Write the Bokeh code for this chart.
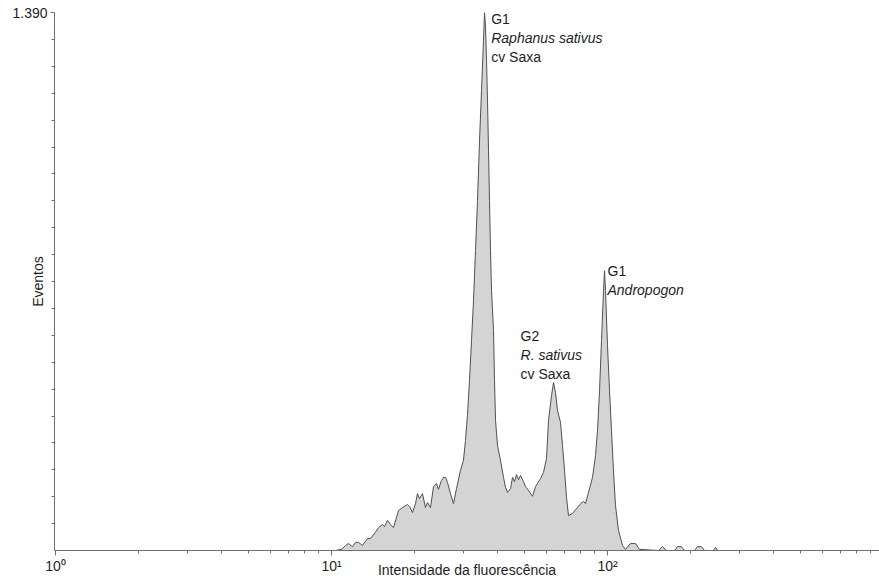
from bokeh.plotting import figure
from bokeh.models import Range1d, FixedTicker, ColumnDataSource
from bokeh.embed import file_html
from bokeh.resources import INLINE
from bokeh.core.properties import value

# ---- data ----
fluorescence = [
    10.34, 10.87, 11.24, 11.52, 11.91, 12.22, 12.53, 12.95, 13.50, 13.85,
    14.43, 14.80, 15.30, 15.56, 15.95, 16.36, 16.77, 17.49, 18.08, 18.85,
    19.17, 19.65, 20.15, 20.49, 20.84, 21.36, 21.90, 22.27, 22.84, 23.42,
    24.01, 24.41, 25.03, 25.45, 25.88, 26.32, 26.98, 27.67, 28.37, 29.33,
    30.07, 30.58, 31.09, 31.62, 32.16, 32.70, 33.25, 33.81, 34.38, 34.96,
    35.54, 35.84, 36.14, 36.45, 36.75, 37.06, 37.37, 37.68, 38.00, 38.64,
    38.96, 39.29, 39.95, 40.96, 42.00, 42.71, 43.43, 44.53, 45.28, 46.04,
    46.82, 47.61, 48.41, 49.63, 50.47, 51.75, 53.50, 54.86, 57.19, 58.64,
    60.12, 61.13, 62.68, 63.74, 64.81, 65.90, 67.57, 68.71, 69.86, 71.04,
    72.24, 74.69, 77.87, 79.84, 81.87, 83.25, 85.36, 88.25, 90.49, 92.01,
    93.56, 95.14, 96.74, 97.55, 98.35, 100.0, 101.7, 103.4, 105.1, 106.9,
    109.6, 113.3, 116.2, 121.2, 126.3, 130.6, 153.0, 158.2, 163.6, 174.9,
    179.3, 185.4, 190.1, 206.7, 211.9, 219.1, 224.6, 242.2, 246.3, 250.4,
]
events = [
    0, 3, 13, 18, 10, 21, 21, 13, 31, 31,
    47, 59, 67, 62, 78, 67, 59, 103, 111, 119,
    114, 98, 121, 147, 134, 147, 111, 124, 111, 165,
    173, 158, 181, 189, 189, 176, 147, 121, 160, 207,
    233, 284, 349, 439, 543, 646, 775, 904, 1059, 1188,
    1318, 1390, 1356, 1266, 1163, 1033, 904, 775, 672, 568,
    439, 336, 271, 233, 189, 163, 150, 160, 189, 178,
    196, 183, 194, 178, 165, 155, 140, 165, 186, 202,
    238, 336, 400, 434, 408, 362, 331, 271, 207, 137,
    90, 96, 111, 121, 127, 121, 150, 189, 245, 310,
    413, 543, 672, 723, 672, 530, 413, 310, 207, 116,
    52, 13, 3, 18, 18, 3, 0, 10, 0, 0,
    10, 10, 0, 0, 10, 10, 0, 0, 8, 0,
]

x_major_ticks = [1, 10, 100]
x_minor_ticks = [2, 3, 4, 5, 6, 7, 8, 9,
                 20, 30, 40, 50, 60, 70, 80, 90,
                 200, 300, 400, 500, 600, 700, 800, 900]
x_tick_labels = ["10\u2070", "10\u00b9", "10\u00b2"]
y_max = 1390
y_tick_label = "1.390"

ann_x = [37.9, 37.9, 37.9, 48.4, 48.4, 48.4, 100.0, 100.0]
ann_y = [1372, 1324, 1276, 553, 505, 457, 721, 673]
ann_text = ["G1", "Raphanus sativus", "cv Saxa",
            "G2", "R. sativus", "cv Saxa",
            "G1", "Andropogon"]
ann_style = ["normal", "italic", "normal",
             "normal", "italic", "normal",
             "normal", "italic"]

FONT = "Liberation Sans"
TXT = "#1e1e1e"
AX = "#707070"

p = figure(width=879, height=581, x_axis_type="log",
           x_range=Range1d(0.9917, 967.2), y_range=Range1d(0, y_max),
           output_backend="svg", toolbar_location=None,
           min_border_left=54, min_border_right=0,
           min_border_top=12, min_border_bottom=31)
p.outline_line_color = None
p.grid.visible = False
p.background_fill_color = "white"

src = ColumnDataSource(dict(x=fluorescence, y=events))
p.varea(x="x", y1=0, y2="y", source=src, fill_color="#d4d4d4")
p.line(x="x", y="y", source=src, line_color="#505050", line_width=1)

asrc = ColumnDataSource(dict(x=ann_x, y=ann_y, t=ann_text, s=ann_style))
p.text(x="x", y="y", text="t", source=asrc, text_font=value(FONT),
       text_font_style="s", text_font_size="14px", text_color=TXT,
       text_align="left", text_baseline="middle")

# x axis
xa = p.xaxis[0]
xa.ticker = FixedTicker(ticks=x_major_ticks, minor_ticks=x_minor_ticks)
xa.major_label_overrides = dict(zip(x_major_ticks, x_tick_labels))
xa.axis_line_color = AX
xa.major_tick_line_color = AX
xa.minor_tick_line_color = AX
xa.major_tick_in = 0
xa.major_tick_out = 5
xa.minor_tick_in = 0
xa.minor_tick_out = 3
xa.major_label_standoff = 2
xa.major_label_text_font = FONT
xa.major_label_text_font_size = "14px"
xa.major_label_text_color = TXT
xa.axis_label = "Intensidade da fluorescência"
xa.axis_label_text_font = FONT
xa.axis_label_text_font_size = "14px"
xa.axis_label_text_font_style = "normal"
xa.axis_label_text_color = TXT
xa.axis_label_standoff = -15

# y axis
ya = p.yaxis[0]
ya.ticker = FixedTicker(ticks=[y_max], minor_ticks=[y_max * k / 20 for k in range(1, 20)])
ya.major_label_overrides = {y_max: y_tick_label}
ya.axis_line_color = AX
ya.major_tick_line_color = AX
ya.minor_tick_line_color = AX
ya.major_tick_in = 0
ya.major_tick_out = 4
ya.minor_tick_in = 0
ya.minor_tick_out = 3
ya.major_label_standoff = 3
ya.major_label_text_font = FONT
ya.major_label_text_font_size = "14px"
ya.major_label_text_color = TXT
ya.axis_label = "Eventos"
ya.axis_label_text_font = FONT
ya.axis_label_text_font_size = "14px"
ya.axis_label_text_font_style = "normal"
ya.axis_label_text_color = TXT
ya.axis_label_standoff = -37

open("out.html", "w").write(file_html(p, INLINE))
